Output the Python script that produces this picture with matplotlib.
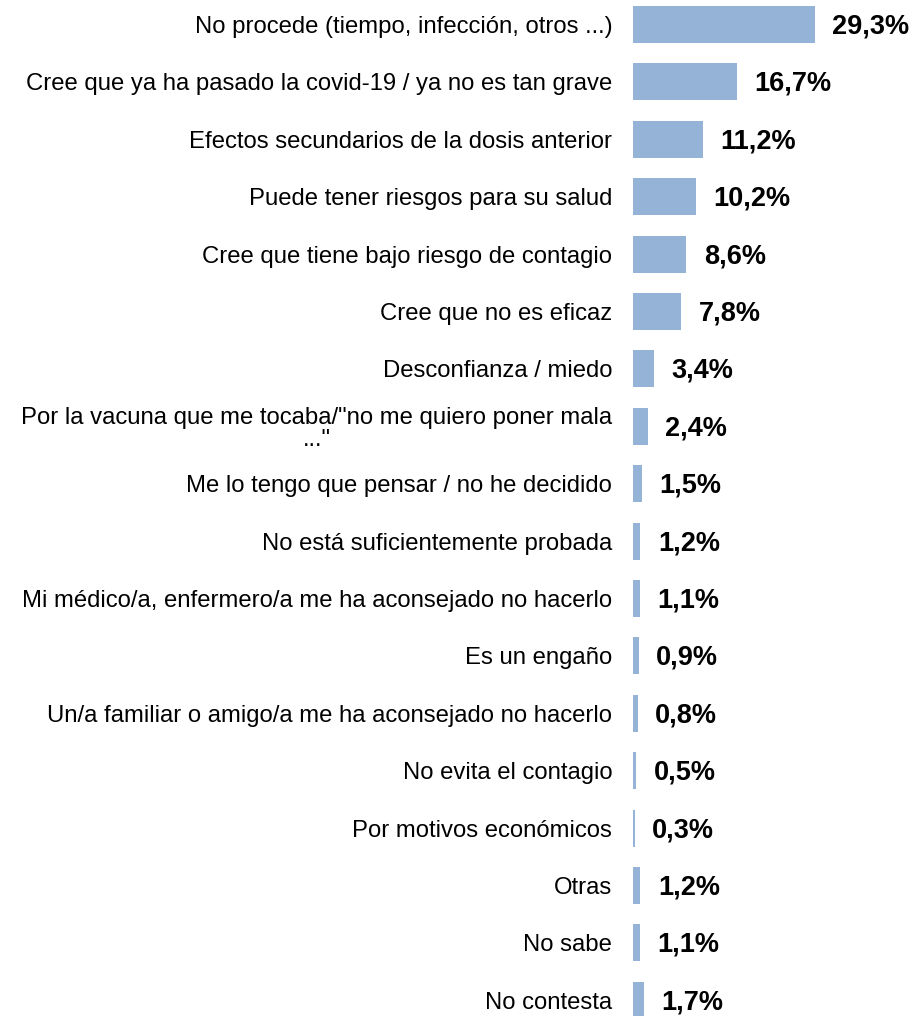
import matplotlib.pyplot as plt

# Motivos para no vacunarse (porcentajes)
motivos = [
    'No procede (tiempo, infección, otros ...)',
    'Cree que ya ha pasado la covid-19 / ya no es tan grave',
    'Efectos secundarios de la dosis anterior',
    'Puede tener riesgos para su salud',
    'Cree que tiene bajo riesgo de contagio',
    'Cree que no es eficaz',
    'Desconfianza / miedo',
    'Por la vacuna que me tocaba/"no me quiero poner mala\n..."',
    'Me lo tengo que pensar / no he decidido',
    'No está suficientemente probada',
    'Mi médico/a, enfermero/a me ha aconsejado no hacerlo',
    'Es un engaño',
    'Un/a familiar o amigo/a me ha aconsejado no hacerlo',
    'No evita el contagio',
    'Por motivos económicos',
    'Otras',
    'No sabe',
    'No contesta',
]
porcentajes = [29.3, 16.7, 11.2, 10.2, 8.6, 7.8, 3.4, 2.4, 1.5, 1.2, 1.1, 0.9, 0.8, 0.5, 0.3, 1.2, 1.1, 1.7]

plt.rcParams['font.family'] = ['Liberation Sans', 'DejaVu Sans']

fig = plt.figure(figsize=(9.14, 10.16), dpi=100)
ax = fig.add_axes([633 / 914, 0, 250 / 914, 1])

y = list(range(len(motivos)))
ax.barh(y, porcentajes, height=0.645, color='#95b3d7')

for yi, v in zip(y, porcentajes):
    ax.annotate(f'{v:.1f}%'.replace('.', ','), (v, yi), xytext=(12.5, -1.5),
                textcoords='offset points', va='center', ha='left',
                fontsize=19.5, fontweight='bold', color='black')

ax.set_xlim(0, 250 / 6.21)
ax.set_ylim((1016 - 24.5) / 57.4, -24.5 / 57.4)
ax.set_yticks(y)
ax.set_yticklabels(motivos, fontsize=17.2, multialignment='center', linespacing=1.0)
ax.tick_params(axis='y', length=0, pad=15)
ax.set_xticks([])
for s in ax.spines.values():
    s.set_visible(False)

fig.savefig('out.png', dpi=100)
